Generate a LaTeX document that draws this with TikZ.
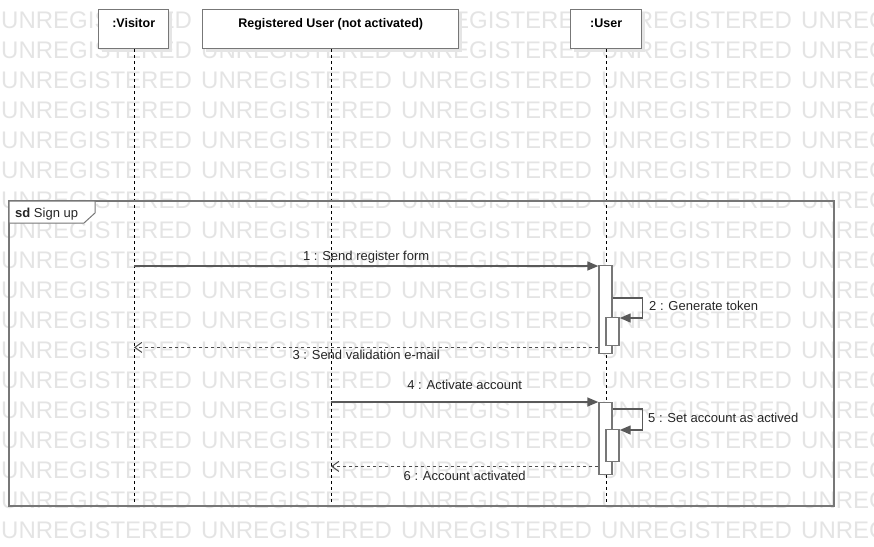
\documentclass[tikz,border=0pt]{standalone}
\usepackage{fontspec}
\setmainfont{Liberation Sans}
\usepackage{tikz}
\usetikzlibrary{arrows.meta,positioning,calc,shadows}
\definecolor{boxgray}{HTML}{777777}
\definecolor{wmgray}{HTML}{E4E4E4}

\begin{document}
\begin{tikzpicture}[
  x=1pt, y=-1pt,
  head/.style={rectangle, draw=boxgray, line width=1.4pt, fill=white,
    minimum height=39pt, inner ysep=5pt, text height=13pt, text depth=16pt,
    anchor=north west, font=\fontsize{12.5}{14}\selectfont\bfseries,
    drop shadow={shadow xshift=3pt, shadow yshift=-3pt, fill=black!10, opacity=1}},
  act/.style={rectangle, draw=boxgray, line width=1.4pt, fill=white,
    minimum width=13pt, inner sep=0pt, anchor=north},
  life/.style={black, line width=0.8pt, dash pattern=on 3pt off 3pt},
  msg/.style={-{Triangle[length=11pt,width=9pt]}, black!65, line width=1.4pt},
  ret/.style={-{Straight Barb[length=7pt,width=10pt]}, black!70, line width=1pt,
    dash pattern=on 3pt off 3pt},
  lbl/.style={font=\fontsize{13}{15}\selectfont, text=black!85, inner sep=2pt},
  wm/.style={font=\fontsize{24}{24}\selectfont, text=wmgray, anchor=west, inner sep=0pt},
]
  \useasboundingbox (0,0) rectangle (874,546);

  % watermark
  \foreach \r in {0,...,17}{
    \foreach \c in {0,...,4}{
      \node[wm] (wm-\r-\c) at (\c*200+1, 20+30*\r) {UNREGISTERED};
    }
  }

  % lifeline heads
  \node[head, minimum width=70pt]  (visitor) at (98,9)  {:Visitor};
  \node[head, minimum width=256pt] (reguser) at (202,9) {Registered User (not activated)};
  \node[head, minimum width=71pt]  (user)    at (570,9) {:User};

  % lifelines
  \coordinate (visitorEnd) at (134,503);
  \coordinate (reguserEnd) at (331,503);
  \coordinate (userEnd)    at (606,503);
  \draw[life] (visitor.south -| visitorEnd) -- (visitorEnd);
  \draw[life] (reguser.south -| reguserEnd) -- (reguserEnd);
  \draw[life] (user.south -| userEnd) -- (userEnd);

  % frame
  \draw[boxgray, line width=1.4pt] (9,201) rectangle (834,506);
  \draw[boxgray, line width=1pt, fill=white] (9,201) -- (95,201) -- (95,213) -- (84,223) -- (9,223) -- cycle;
  \node[lbl, anchor=base west] (sdtag) at (13,217) {\textbf{sd}\ Sign up};

  % activations
  \node[act, minimum height=88pt] (act1)  at (605.5,265) {};
  \node[act, minimum height=28pt] (act1b) at (612.5,317) {};
  \node[act, minimum height=72pt] (act2)  at (605.5,402) {};
  \node[act, minimum height=32pt] (act2b) at (612.5,429) {};

  % 1 : Send register form
  \coordinate (m1) at ([yshift=-1pt]act1.north west);
  \draw[msg] (visitorEnd |- m1) -- node[lbl, above, yshift=0pt] (lbl1) {1 : Send register form} (m1);

  % 2 : Generate token
  \draw[msg] ([yshift=-33pt]act1.north east) -- ++(30,0) |- ([yshift=-1pt]act1b.north east);
  \node[lbl, anchor=west] (lbl2) at (647,306) {2 : Generate token};

  % 3 : Send validation e-mail
  \coordinate (m3) at ([yshift=7pt]act1.south west);
  \draw[ret] (m3) -- node[lbl, below, yshift=0pt] (lbl3) {3 : Send validation e-mail} (visitorEnd |- m3);

  % 4 : Activate account
  \coordinate (m4) at (act2.north west);
  \draw[msg] (reguserEnd |- m4) -- node[lbl, above, yshift=10pt] (lbl4) {4 : Activate account} (m4);

  % 5 : Set account as actived
  \draw[msg] ([yshift=-7pt]act2.north east) -- ++(30,0) |- ([yshift=-1pt]act2b.north east);
  \node[lbl, anchor=west] (lbl5) at (646,418) {5 : Set account as actived};

  % 6 : Account activated
  \coordinate (m6) at ([yshift=9pt]act2.south west);
  \draw[ret] (m6) -- node[lbl, below, yshift=-2pt] (lbl6) {6 : Account activated} (reguserEnd |- m6);
\end{tikzpicture}
\end{document}
